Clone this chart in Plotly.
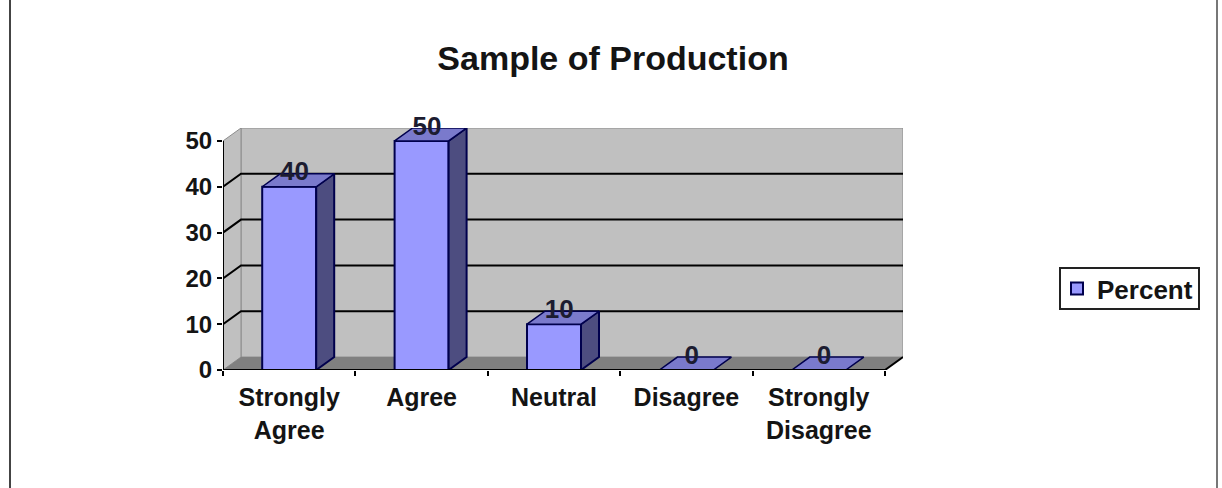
import plotly.graph_objects as go

categories = ["Strongly<br>Agree", "Agree", "Neutral", "Disagree", "Strongly<br>Disagree"]
percent = [40, 50, 10, 0, 0]
y_ticks = [0, 10, 20, 30, 40, 50]
series_name = "Percent"
title_text = "Sample of Production"

FONT = "Liberation Sans"
INK = "#141414"
EDGE = "#00004d"
FRONT, SIDE, TOP = "#9999ff", "#4d4d80", "#7a7acc"
WALL, FLOOR = "#c0c0c0", "#808080"

# pixel scale of the plot, expressed as 3-D depth in data units
DX = 18 / 132.4
DY = 13 / 4.6
BAR_W = 54 / 132.4
x_pos = list(range(len(categories)))
xl, xr = -0.5, len(categories) - 0.5
ymax = max(y_ticks)

fig = go.Figure()


def poly(pts, fill, line=None, width=0):
    path = "M" + "L".join(f"{a},{b}" for a, b in pts) + "Z"
    fig.add_shape(type="path", path=path, xref="x", yref="y", fillcolor=fill,
                  line=dict(color=line or fill, width=width), layer="below")


poly([(xl + DX, DY), (xr + DX, DY), (xr + DX, ymax + DY), (xl + DX, ymax + DY)], WALL, "#8c8c8c", 1)
poly([(xl, 0), (xl + DX, DY), (xl + DX, ymax + DY), (xl, ymax)], WALL, "#8c8c8c", 1)
poly([(xl, 0), (xr, 0), (xr + DX, DY), (xl + DX, DY)], FLOOR)

for v in y_ticks[1:-1]:
    fig.add_shape(type="path", xref="x", yref="y", layer="below",
                  path=f"M{xl},{v}L{xl + DX},{v + DY}L{xr + DX},{v + DY}",
                  line=dict(color="#000000", width=2))

fig.add_trace(go.Bar(x=x_pos, y=percent, width=BAR_W, name=series_name,
                     marker=dict(color=FRONT, line=dict(color=EDGE, width=2)),
                     hoverinfo="x+y"))

for x, v in zip(x_pos, percent):
    a, b = x - BAR_W / 2, x + BAR_W / 2
    if v > 0:
        fig.add_trace(go.Scatter(x=[b, b + DX, b + DX, b, b], y=[0, DY, v + DY, v, 0],
                                 mode="lines", fill="toself", fillcolor=SIDE,
                                 line=dict(color=EDGE, width=2), showlegend=False, hoverinfo="skip"))
    fig.add_trace(go.Scatter(x=[a, a + DX, b + DX, b, a], y=[v, v + DY, v + DY, v, v],
                             mode="lines", fill="toself", fillcolor=TOP,
                             line=dict(color=EDGE, width=1.5), showlegend=False, hoverinfo="skip"))

# axis lines
fig.add_trace(go.Scatter(x=[xl, xl], y=[0, ymax], mode="lines",
                         line=dict(color="#000000", width=2), showlegend=False, hoverinfo="skip"))
fig.add_trace(go.Scatter(x=[xl, xr, xr + DX], y=[0, 0, DY], mode="lines",
                         line=dict(color="#000000", width=2), showlegend=False, hoverinfo="skip"))

# data labels
fig.add_trace(go.Scatter(x=[x + 0.04 for x in x_pos], y=[v + 2.8 for v in percent],
                         mode="text", text=[f"<b>{v}</b>" for v in percent], textposition="middle center",
                         textfont=dict(family=FONT, size=26, color="#1c1c30"), cliponaxis=False,
                         showlegend=False, hoverinfo="skip"))

fig.update_layout(
    width=1222, height=488, autosize=False,
    margin=dict(l=223, r=319, t=128, b=118, pad=0),
    paper_bgcolor="#ffffff", plot_bgcolor="rgba(0,0,0,0)",
    font=dict(family=FONT, size=24, color=INK),
    title=dict(text=f"<b>{title_text}</b>", x=613 / 1222, xref="container", xanchor="center",
               y=1 - 58 / 488, yanchor="middle", font=dict(family=FONT, size=34, color=INK)),
    showlegend=True,
    legend=dict(x=(1057 - 223) / 680, xanchor="left", y=(370 - 288.5) / 242, yanchor="middle",
                bgcolor="rgba(0,0,0,0)", borderwidth=0,
                font=dict(family=FONT, size=26, color=INK, weight="bold"),
                itemclick=False, itemdoubleclick=False),
    xaxis=dict(range=[xl, xr + DX], tickmode="array", tickvals=x_pos, ticktext=[f"<b>{c}</b>" for c in categories],
               ticks="", showgrid=False, zeroline=False, showline=False,
               minor=dict(tickmode="array", tickvals=[x - 0.5 for x in x_pos] + [xr], ticks="outside",
                          ticklen=5, tickwidth=2, tickcolor="#000000", showgrid=False),
               tickfont=dict(family=FONT, size=25, color=INK), ticklabelstandoff=10),
    yaxis=dict(range=[0, ymax + DY], tickmode="array", tickvals=y_ticks,
               ticktext=[f"<b>{t}</b>" for t in y_ticks], ticks="outside", ticklen=5, tickwidth=2,
               tickcolor="#000000", showgrid=False, zeroline=False, showline=False,
               tickfont=dict(family=FONT, size=24, color=INK)),
    shapes=list(fig.layout.shapes) + [
        dict(type="line", xref="paper", yref="paper", x0=(10 - 223) / 680, x1=(10 - 223) / 680,
             y0=-1, y1=2, line=dict(color="#444444", width=2), layer="above"),
        dict(type="line", xref="paper", yref="paper", x0=(1217 - 223) / 680, x1=(1217 - 223) / 680,
             y0=-1, y1=2, line=dict(color="#777777", width=2), layer="above"),
        dict(type="rect", xref="paper", yref="paper",
             x0=(1060 - 223) / 680, x1=(1199 - 223) / 680,
             y0=(370 - 309) / 242, y1=(370 - 268) / 242,
             fillcolor="#ffffff", line=dict(color="#222222", width=2), layer="above"),
    ],
)

fig.write_html("out.html", config={"displayModeBar": False},
               post_script="document.body.style.margin='0';")
